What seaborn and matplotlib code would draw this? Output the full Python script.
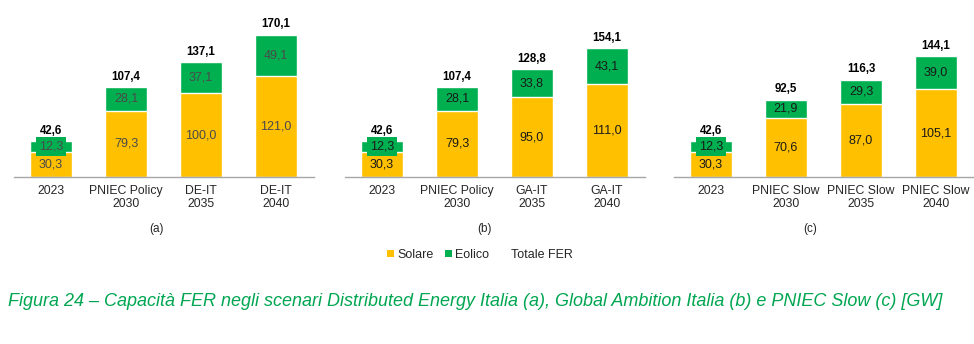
import matplotlib
matplotlib.use("Agg")
import matplotlib.pyplot as plt
import seaborn as sns
import pandas as pd
from matplotlib.patches import Patch

sns.set_theme(style="white")
plt.rcParams['font.family'] = ['Liberation Sans', 'DejaVu Sans']

# ---- data ----
cats_a = ["2023", "PNIEC Policy\n2030", "DE-IT\n2035", "DE-IT\n2040"]
solare_a = [30.3, 79.3, 100.0, 121.0]
eolico_a = [12.3, 28.1, 37.1, 49.1]
totale_a = [42.6, 107.4, 137.1, 170.1]

cats_b = ["2023", "PNIEC Policy\n2030", "GA-IT\n2035", "GA-IT\n2040"]
solare_b = [30.3, 79.3, 95.0, 111.0]
eolico_b = [12.3, 28.1, 33.8, 43.1]
totale_b = [42.6, 107.4, 128.8, 154.1]

cats_c = ["2023", "PNIEC Slow\n2030", "PNIEC Slow\n2035", "PNIEC Slow\n2040"]
solare_c = [30.3, 70.6, 87.0, 105.1]
eolico_c = [12.3, 21.9, 29.3, 39.0]
totale_c = [42.6, 92.5, 116.3, 144.1]

panel_tags = ["(a)", "(b)", "(c)"]
legend_labels = ["Solare", "Eolico", "Totale FER"]
caption = ("Figura 24 \u2013 Capacit\u00e0 FER negli scenari Distributed Energy Italia (a), "
           "Global Ambition Italia (b) e PNIEC Slow (c) [GW]")

YELLOW = "#FFC000"
GREEN = "#00B050"

W, H = 974, 344
fig = plt.figure(figsize=(W / 100, H / 100), dpi=100)

def fmt(v):
    return f"{v:.1f}".replace(".", ",")

panels = [
    (cats_a, solare_a, eolico_a, totale_a, 13.5, "#4A4A4A"),
    (cats_b, solare_b, eolico_b, totale_b, 344.5, "#1A1A1A"),
    (cats_c, solare_c, eolico_c, totale_c, 673.5, "#1A1A1A"),
]
tag_x = [157, 485, 810]

axis_y = 177
ymax = 200
pxu = 0.837
top_px = axis_y - ymax * pxu

for i, (cats, sol, eol, tot, left, lblcol) in enumerate(panels):
    ax = fig.add_axes([left / W, (H - axis_y) / H, 300 / W, (axis_y - top_px) / H])
    df = pd.DataFrame({"cat": cats, "sol": sol, "eol": eol, "tot": tot})
    sns.barplot(data=df, x="cat", y="tot", color=GREEN, saturation=1, width=0.56, ax=ax)
    sns.barplot(data=df, x="cat", y="sol", color=YELLOW, saturation=1, width=0.56, ax=ax)
    ax.set_ylim(0, ymax)
    ax.set_xlim(-0.5, 3.5)
    ax.set_xlabel("")
    ax.set_ylabel("")
    ax.set_yticks([])
    for s in ["top", "left", "right"]:
        ax.spines[s].set_visible(False)
    ax.spines["bottom"].set_color("#A6A6A6")
    ax.spines["bottom"].set_linewidth(1.0)
    ax.tick_params(axis="x", length=0, pad=5.5, labelsize=8.8, labelcolor="#262626")
    for j in range(len(cats)):
        s, e, t = sol[j], eol[j], tot[j]
        ax.text(j, s / 2, fmt(s), ha="center", va="center", fontsize=9, color=lblcol)
        if j == 0:
            ax.text(j, s + e / 2, fmt(e), ha="center", va="center", fontsize=9, color=lblcol,
                    bbox=dict(boxstyle="square,pad=0.25", facecolor=GREEN, edgecolor="none"))
        else:
            ax.text(j, s + e / 2, fmt(e), ha="center", va="center", fontsize=9, color=lblcol)
        ax.annotate(fmt(t), (j, t), xytext=(0, 7.5), textcoords="offset points",
                    ha="center", va="center", fontsize=8.3, fontweight="bold", color="black")
    fig.text(tag_x[i] / W, 1 - 229 / H, panel_tags[i], ha="center", va="center",
             fontsize=8.5, color="#262626")

handles = [Patch(facecolor=YELLOW, edgecolor="none"),
           Patch(facecolor=GREEN, edgecolor="none"),
           Patch(facecolor="none", edgecolor="none")]
fig.legend(handles, legend_labels, loc="center", bbox_to_anchor=(480 / W, 1 - 255 / H),
           ncol=3, frameon=False, fontsize=9, handlelength=0.55, handleheight=0.55,
           handletextpad=0.3, columnspacing=0.9, labelcolor="#262626")

fig.text(8 / W, 1 - 302 / H, caption, ha="left", va="center", fontsize=13,
         style="italic", color="#00A651")

fig.savefig("out.png", dpi=100, facecolor="white")
